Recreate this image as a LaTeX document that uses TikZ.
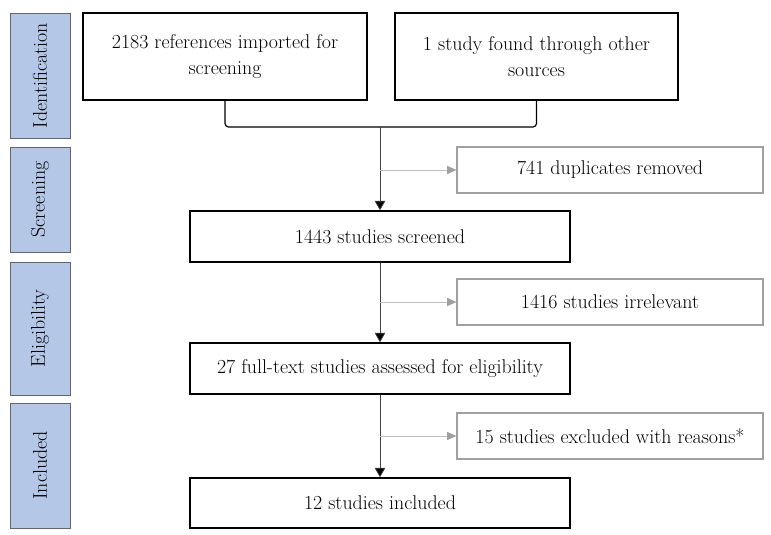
\documentclass[tikz,border=0pt]{standalone}
\usetikzlibrary{positioning,arrows.meta}
\definecolor{stagefill}{RGB}{180,199,231}
\definecolor{stageline}{RGB}{100,100,110}
\definecolor{sidegray}{RGB}{160,160,160}
\definecolor{arrowgray}{RGB}{190,190,190}

\begin{document}
\begin{tikzpicture}[x=0.03cm,y=-0.03cm,
    stagebox/.style={draw=stageline,fill=stagefill,line width=0.8pt,rotate=90,
        minimum height=1.8cm,font=\fontsize{17}{20}\selectfont},
    mainbox/.style={draw=black,line width=1.3pt,align=center,
        font=\fontsize{17}{21.5}\selectfont},
    sidebox/.style={draw=sidegray,line width=1pt,minimum width=9.18cm,
        minimum height=1.38cm,font=\fontsize{17}{20}\selectfont},
    flow/.style={draw=black!75,line width=0.6pt,-{Triangle[length=8pt,width=9pt,fill=black]}},
    sideflow/.style={draw=arrowgray,line width=0.8pt,-{Triangle[length=8pt,width=7pt,fill=sidegray,color=sidegray]}}]
    \useasboundingbox (0,0) rectangle (771,535);

    % stage labels on the left
    \node[stagebox,minimum width=3.75cm] (ident) at (40,75.5) {Identification};
    \node[stagebox,minimum width=3.15cm] (screen) at (40,199.5) {Screening};
    \node[stagebox,minimum width=3.99cm] (elig) at (40,328.5) {Eligibility};
    \node[stagebox,minimum width=3.75cm] (incl) at (40,465.5) {Included};

    % flow boxes
    \node[mainbox,minimum width=8.52cm,minimum height=2.61cm] (refs) at (225,56.5)
        {2183 references imported for\\screening};
    \node[mainbox,minimum width=8.49cm,minimum height=2.61cm] (other) at (536.5,56.5)
        {1 study found through other\\sources};
    \node[mainbox,minimum width=11.4cm,minimum height=1.53cm] (screened) at (380,236.5)
        {1443 studies screened};
    \node[mainbox,minimum width=11.4cm,minimum height=1.53cm] (fulltext) at (380,368.5)
        {27 full-text studies assessed for eligibility};
    \node[mainbox,minimum width=11.4cm,minimum height=1.5cm] (included) at (380,503)
        {12 studies included};

    % removed / excluded boxes
    \node[sidebox] (dups) at (610,170) {741 duplicates removed};
    \node[sidebox] (irrel) at (610,302) {1416 studies irrelevant};
    \node[sidebox] (excl) at (610,436) {15 studies excluded with reasons*};

    % bracket joining the two sources
    \coordinate (join) at (380,127);
    \draw[line width=1pt,rounded corners=3pt] (refs.south) |- (join) -| (other.south);

    % main arrows
    \draw[flow] (join) -- (screened.north);
    \draw[flow] (screened.south) -- (fulltext.north);
    \draw[flow] (fulltext.south) -- (included.north);

    % side arrows
    \draw[sideflow] (dups.west -| join) -- (dups.west);
    \draw[sideflow] (irrel.west -| join) -- (irrel.west);
    \draw[sideflow] (excl.west -| join) -- (excl.west);
\end{tikzpicture}
\end{document}
